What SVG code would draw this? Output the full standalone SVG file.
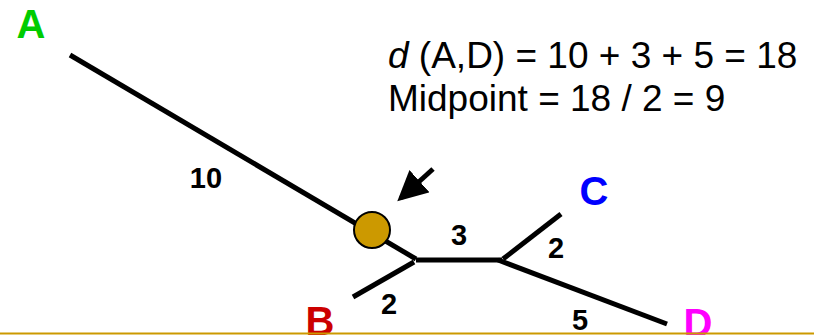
<svg xmlns="http://www.w3.org/2000/svg" width="814" height="335" viewBox="0 0 814 335">
<defs>
<style>
.edge{stroke:#000;stroke-width:5;fill:none;stroke-linecap:butt}
.lbl{font-family:"Liberation Sans",Arial,sans-serif;font-weight:bold;font-size:29px;fill:#000;text-anchor:middle}
.leaf{font-family:"Liberation Sans",Arial,sans-serif;font-weight:bold;font-size:40px;text-anchor:middle}
.eq{font-family:"Liberation Sans",Arial,sans-serif;font-size:37px;fill:#000}
</style>
<marker id="ah" markerWidth="6" markerHeight="6" refX="5" refY="3" orient="auto" markerUnits="strokeWidth">
<path d="M0,0 L6,3 L0,6 Z" fill="#000"/>
</marker>
</defs>
<rect width="814" height="335" fill="#fff"/>
<g id="connectors">
<line class="edge" x1="70" y1="55" x2="416" y2="259"/>
<line class="edge" x1="416" y1="260" x2="502" y2="260"/>
<line class="edge" x1="414" y1="262" x2="353" y2="297"/>
<line class="edge" x1="503" y1="259" x2="561" y2="214"/>
<line class="edge" x1="498" y1="260" x2="667" y2="324"/>
<line class="edge" x1="433" y1="169" x2="401" y2="198" marker-end="url(#ah)"/>
</g>
<g id="midpoint"><circle cx="372" cy="230" r="18" fill="#CC9900" stroke="#000" stroke-width="2"/></g>
<g id="nodeA"><text class="leaf" x="31" y="38" fill="#00CC00">A</text></g>
<g id="nodeB"><text class="leaf" x="320" y="335" fill="#CC0000">B</text></g>
<g id="nodeC"><text class="leaf" x="594" y="205" fill="#0000FF">C</text></g>
<g id="nodeD"><text class="leaf" x="698" y="337" fill="#FF00FF">D</text></g>
<g id="labels">
<text class="lbl" x="206" y="188">10</text>
<text class="lbl" x="459" y="245">3</text>
<text class="lbl" x="556" y="258">2</text>
<text class="lbl" x="389" y="314">2</text>
<text class="lbl" x="580" y="330">5</text>
</g>
<g id="equations">
<text class="eq" x="388" y="68"><tspan font-style="italic">d</tspan> (A,D) = 10 + 3 + 5 = 18</text>
<text class="eq" x="388" y="111">Midpoint = 18 / 2 = 9</text>
</g>
<line x1="0" y1="333.5" x2="814" y2="333.5" stroke="#CC9900" stroke-width="2"/>
</svg>
